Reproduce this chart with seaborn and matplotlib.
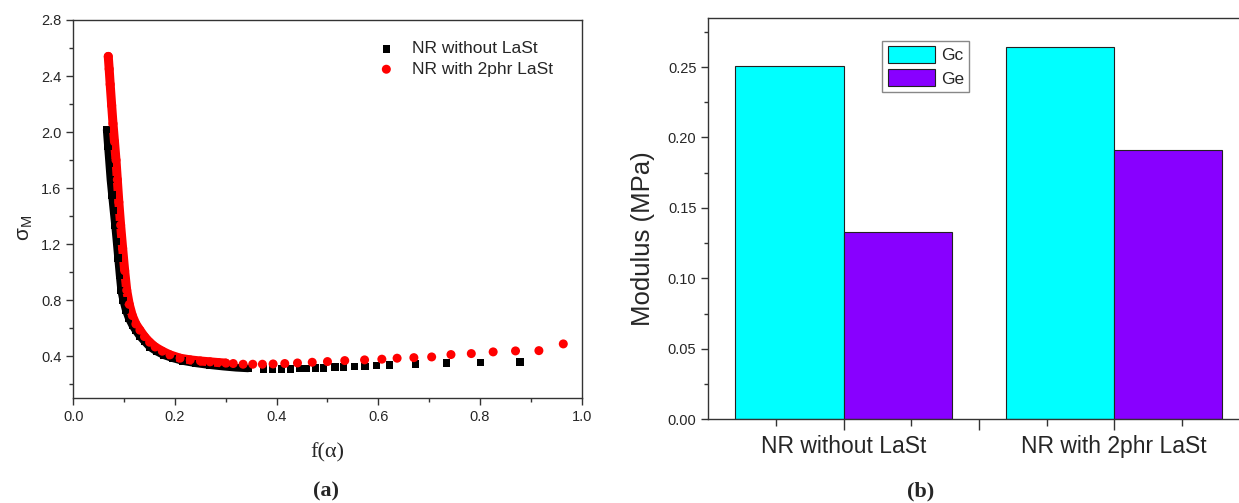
import matplotlib
matplotlib.use("Agg")
import matplotlib.pyplot as plt
from matplotlib.ticker import MultipleLocator, FixedLocator, FormatStrFormatter
import pandas as pd
import seaborn as sns

sns.set_theme(style="ticks")
plt.rcParams["font.family"] = ["Liberation Sans", "DejaVu Sans"]
plt.rcParams["mathtext.fontset"] = "custom"
plt.rcParams["mathtext.rm"] = "Liberation Sans"
plt.rcParams["mathtext.it"] = "Liberation Sans"

# (a) NR without LaSt: dense part + sparse tail
fa_plain_dense = [0.0655, 0.068, 0.0705, 0.073, 0.076, 0.079, 0.082, 0.085, 0.088, 0.091,
                  0.094, 0.098, 0.103, 0.109, 0.116, 0.122, 0.130, 0.140, 0.150, 0.163,
                  0.178, 0.195, 0.215, 0.240, 0.269, 0.295, 0.320, 0.345]
sig_plain_dense = [2.02, 1.90, 1.78, 1.66, 1.55, 1.44, 1.336, 1.22, 1.10, 0.98,
                   0.871, 0.80, 0.73, 0.67, 0.62, 0.586, 0.545, 0.505, 0.466, 0.435,
                   0.407, 0.386, 0.366, 0.350, 0.336, 0.326, 0.318, 0.313]
fa_plain_tail = [0.374, 0.392, 0.409, 0.427, 0.445, 0.459, 0.477, 0.492, 0.515, 0.531,
                 0.553, 0.574, 0.597, 0.622, 0.673, 0.734, 0.801, 0.879]
sig_plain_tail = [0.310, 0.310, 0.310, 0.310, 0.312, 0.312, 0.315, 0.317, 0.322, 0.322,
                  0.326, 0.329, 0.333, 0.338, 0.345, 0.352, 0.357, 0.360]

# (a) NR with 2phr LaSt
fa_last_dense = [0.0687, 0.0705, 0.0725, 0.0754, 0.078, 0.081, 0.0839, 0.0865, 0.0895, 0.093,
                 0.097, 0.101, 0.105, 0.110, 0.116, 0.123, 0.131, 0.140, 0.150, 0.161,
                 0.175, 0.190, 0.210, 0.230, 0.250, 0.269, 0.285, 0.300]
sig_last_dense = [2.54, 2.45, 2.34, 2.19, 2.06, 1.93, 1.80, 1.66, 1.50, 1.336,
                  1.17, 1.01, 0.871, 0.77, 0.69, 0.63, 0.586, 0.54, 0.50, 0.466,
                  0.436, 0.41, 0.386, 0.374, 0.366, 0.360, 0.355, 0.351]
fa_last_tail = [0.3146, 0.334, 0.353, 0.372, 0.393, 0.416, 0.441, 0.470, 0.500, 0.534,
                0.573, 0.607, 0.637, 0.670, 0.705, 0.743, 0.783, 0.826, 0.870, 0.916, 0.964]
sig_last_tail = [0.348, 0.343, 0.343, 0.343, 0.345, 0.348, 0.352, 0.357, 0.362, 0.369,
                 0.374, 0.379, 0.386, 0.390, 0.395, 0.412, 0.419, 0.431, 0.438, 0.440, 0.488]

# (b) moduli
samples = ["NR without LaSt", "NR with 2phr LaSt"]
gc = [0.251, 0.264]
ge = [0.133, 0.191]

fig = plt.figure(figsize=(12.39, 5.03), dpi=100)
ax1 = fig.add_axes([0.0592, 0.2082, 0.4102, 0.7521])
ax2 = fig.add_axes([0.5716, 0.1664, 0.4284, 0.7984])

# ---- left panel
sns.lineplot(x=fa_plain_dense, y=sig_plain_dense, color="black", lw=5.5,
             estimator=None, solid_capstyle="butt", ax=ax1, legend=False)
sns.scatterplot(x=fa_plain_dense + fa_plain_tail, y=sig_plain_dense + sig_plain_tail,
                marker="s", s=28, color="black", edgecolor="none",
                label="NR without LaSt", ax=ax1, zorder=3)
sns.lineplot(x=fa_last_dense, y=sig_last_dense, color="red", lw=6.5,
             estimator=None, solid_capstyle="round", ax=ax1, legend=False)
sns.scatterplot(x=fa_last_dense + fa_last_tail, y=sig_last_dense + sig_last_tail,
                marker="o", s=42, color="red", edgecolor="none",
                label="NR with 2phr LaSt", ax=ax1, zorder=4)

ax1.set_xlim(0, 1.0)
ax1.set_ylim(0.1, 2.8)
ax1.xaxis.set_major_locator(MultipleLocator(0.2))
ax1.xaxis.set_minor_locator(MultipleLocator(0.1))
ax1.yaxis.set_major_locator(FixedLocator([0.4, 0.8, 1.2, 1.6, 2.0, 2.4, 2.8]))
ax1.yaxis.set_minor_locator(MultipleLocator(0.2))
ax1.xaxis.set_major_formatter(FormatStrFormatter("%.1f"))
ax1.yaxis.set_major_formatter(FormatStrFormatter("%.1f"))
ax1.set_xlabel("f(α)", family=["Liberation Serif", "DejaVu Serif"], fontsize=16, labelpad=14)
ax1.set_ylabel(r"$\mathrm{\sigma}_{\mathrm{M}}$", fontsize=15)
ax1.yaxis.set_label_coords(-0.075, 0.45)
ax1.legend(loc="upper left", bbox_to_anchor=(0.568, 0.985), frameon=False,
           fontsize=12.5, handlelength=1.0, handletextpad=1.0, labelspacing=0.3)

# ---- right panel
df = pd.DataFrame({
    "sample": samples * 2,
    "value": gc + ge,
    "kind": ["Gc"] * len(gc) + ["Ge"] * len(ge),
})
sns.barplot(data=df, x="sample", y="value", hue="kind", width=0.8,
            palette=["#00FFFF", "#8800FF"], saturation=1, edgecolor="#222222",
            linewidth=0.8, ax=ax2)
ax2.set_xlim(-0.5, 1.461)
ax2.set_ylim(0, 0.285)
ax2.xaxis.set_major_locator(FixedLocator([0, 0.5, 1]))
ax2.set_xticklabels(["NR without LaSt", "", "NR with 2phr LaSt"])
ax2.xaxis.set_minor_locator(FixedLocator([-0.25, 0.25, 0.75, 1.25]))
ax2.yaxis.set_major_locator(MultipleLocator(0.05))
ax2.yaxis.set_minor_locator(MultipleLocator(0.025))
ax2.yaxis.set_major_formatter(FormatStrFormatter("%.2f"))
ax2.set_xlabel("")
ax2.set_ylabel("Modulus (MPa)", fontsize=18.5)
ax2.yaxis.set_label_coords(-0.10, 0.45)
ax2.spines["right"].set_visible(False)
ax2.legend(loc="upper left", bbox_to_anchor=(0.312, 0.964), fontsize=12.5,
           handlelength=2.75, handleheight=1.1, handletextpad=0.3, labelspacing=0.35,
           borderpad=0.3, fancybox=False, edgecolor="#888888", framealpha=1)

for ax in (ax1, ax2):
    for sp in ax.spines.values():
        sp.set_color("#333333")
        sp.set_linewidth(1.0)
    ax.tick_params(which="major", direction="out", length=5, width=1.0, color="#333333")
    ax.tick_params(which="minor", direction="out", length=3, width=1.0, color="#333333")
    ax.tick_params(axis="y", labelsize=10.5)
ax1.tick_params(axis="x", labelsize=10.5)
ax2.tick_params(axis="x", which="major", length=8, labelsize=16.5, pad=3)
ax2.tick_params(axis="x", which="minor", length=5)

fig.text(0.263, 0.012, "(a)", family=["Liberation Serif", "DejaVu Serif"],
         fontsize=16, fontweight="bold", ha="center")
fig.text(0.743, 0.012, "(b)", family=["Liberation Serif", "DejaVu Serif"],
         fontsize=16, fontweight="bold", ha="center")

fig.savefig("out.png", dpi=100)
